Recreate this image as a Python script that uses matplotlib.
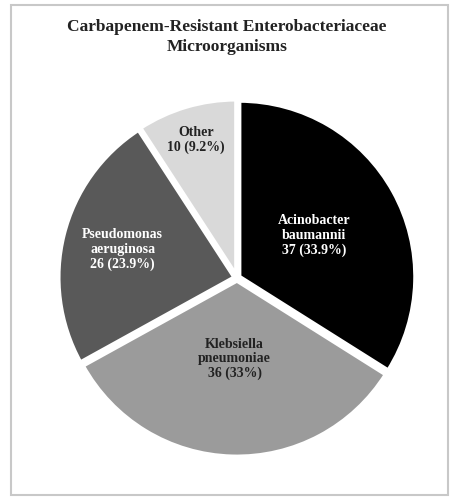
import matplotlib
matplotlib.use("Agg")
import matplotlib.pyplot as plt
from matplotlib.patches import Rectangle
import numpy as np

labels = ["Acinobacter\nbaumannii", "Klebsiella\npneumoniae", "Pseudomonas\naeruginosa", "Other"]
counts = [37, 36, 26, 10]
pct_text = ["33.9%", "33%", "23.9%", "9.2%"]
colors = ["#000000", "#9b9b9b", "#595959", "#d9d9d9"]
text_colors = ["white", "#222222", "white", "#222222"]
label_r = [0.50, 0.46, 0.67, 0.82]

fig = plt.figure(figsize=(4.54, 5.0), dpi=100)
fig.patches.append(Rectangle((11/454, 5/500), (448-11)/454, (495-5)/500,
                             transform=fig.transFigure, fill=False,
                             edgecolor="#c8c8c8", linewidth=1.5))

fig.text(0.5, 1 - 27/500, "Carbapenem-Resistant Enterobacteriaceae", ha="center", va="center",
         fontsize=12.5, fontweight="bold", family="Liberation Serif", color="#222222")
fig.text(0.5, 1 - 47/500, "Microorganisms", ha="center", va="center",
         fontsize=12.5, fontweight="bold", family="Liberation Serif", color="#222222")

cx, cy, R = 237, 278, 176
ax = fig.add_axes([(cx - R) / 454, (500 - cy - R) / 500, 2 * R / 454, 2 * R / 500])
wedges, _ = ax.pie(counts, colors=colors, startangle=90, counterclock=False,
                   explode=[0.015] * 4, radius=1.0,
                   wedgeprops=dict(edgecolor="white", linewidth=3))
for w, lab, c, p, tc, lr in zip(wedges, labels, counts, pct_text, text_colors, label_r):
    ang = np.deg2rad((w.theta1 + w.theta2) / 2)
    ax.text(lr * np.cos(ang), lr * np.sin(ang), f"{lab}\n{c} ({p})", ha="center", va="center",
            fontsize=10, fontweight="bold", family="Liberation Serif", color=tc, linespacing=1.15)
ax.set_xlim(-1.0, 1.0)
ax.set_ylim(-1.0, 1.0)
ax.set_aspect("equal")
ax.axis("off")
fig.savefig("out.png", dpi=100)
